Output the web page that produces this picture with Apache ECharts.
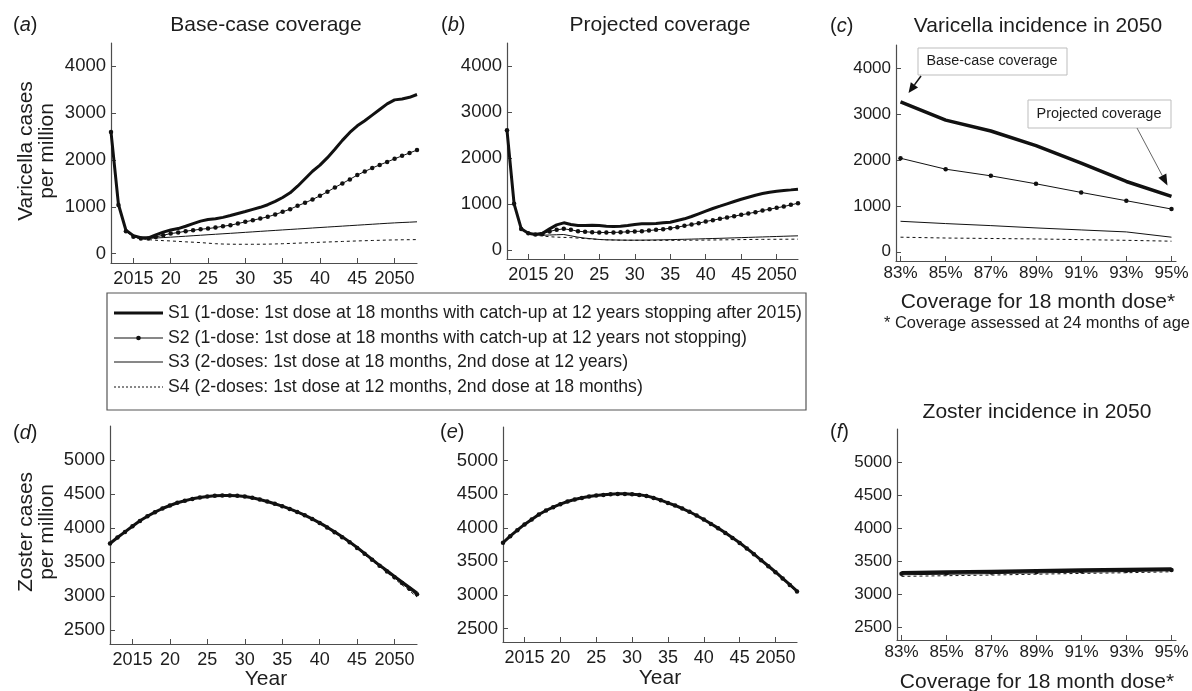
<!DOCTYPE html>
<html><head><meta charset="utf-8">
<script src="https://cdn.jsdelivr.net/npm/echarts@6/dist/echarts.min.js"></script>
<style>html,body{margin:0;padding:0;background:#fff}#c{width:1192px;height:691px}</style>
</head><body><div id="c"></div>
<script>
// ---------------- data ----------------
const years = [2012,2013,2014,2015,2016,2017,2018,2019,2020,2021,2022,2023,2024,2025,2026,2027,2028,2029,2030,2031,2032,2033,2034,2035,2036,2037,2038,2039,2040,2041,2042,2043,2044,2045,2046,2047,2048,2049,2050,2051,2052,2053];
const yearTicks = [2015,2020,2025,2030,2035,2040,2045,2050];
const yearTickLabels = ['2015','20','25','30','35','40','45','2050'];
const coverage = [83,85,87,89,91,93,95];
const coverageTickLabels = ['83%','85%','87%','89%','91%','93%','95%'];
const varicellaTicks = [0,1000,2000,3000,4000];
const zosterTicks = [2500,3000,3500,4000,4500,5000];
const scenarioNames = [
  'S1 (1-dose: 1st dose at 18 months with catch-up at 12 years stopping after 2015)',
  'S2 (1-dose: 1st dose at 18 months with catch-up at 12 years not stopping)',
  'S3 (2-doses: 1st dose at 18 months, 2nd dose at 12 years)',
  'S4 (2-doses: 1st dose at 12 months, 2nd dose at 18 months)'
];

// (a) varicella, base-case coverage
const aS1 = [2600,1050,500,385,340,338,400,460,505,535,585,640,695,730,745,775,815,858,900,945,990,1045,1115,1200,1300,1440,1600,1760,1890,2050,2230,2420,2590,2730,2840,2960,3080,3200,3285,3305,3340,3400];
const aS2 = [2600,1040,480,360,322,322,357,393,429,450,479,500,521,536,557,586,607,643,679,714,750,786,836,893,950,1021,1086,1157,1236,1321,1414,1500,1586,1679,1755,1830,1895,1960,2025,2090,2150,2214];
const aS3 = [2600,1045,485,365,333,328,334,343,352,362,372,383,393,404,414,424,434,444,455,465,476,486,496,507,517,527,537,548,558,568,578,588,598,608,618,628,638,648,657,665,672,680];
const aS4 = [2600,1045,480,355,318,300,286,278,271,262,252,244,236,224,212,205,202,200,200,200,201,203,207,212,218,224,230,236,243,249,254,260,266,271,276,281,285,290,293,296,298,300];
// (b) varicella, projected coverage
const bS1 = [2600,1000,460,362,333,362,456,543,587,550,529,529,536,529,514,507,514,529,551,565,565,572,587,601,638,674,725,783,841,899,949,1000,1051,1101,1145,1188,1225,1254,1275,1290,1304,1319];
const bS2 = [2600,1000,455,360,333,345,400,435,456,435,405,391,384,377,377,377,384,391,400,405,420,435,449,471,493,522,551,580,616,645,674,703,732,761,790,819,855,884,913,942,978,1014];
const bS3 = [2600,1000,455,355,325,318,322,328,333,304,275,254,239,225,217,215,212,210,210,211,213,215,218,221,225,229,233,237,242,246,250,255,260,265,270,275,280,285,290,295,300,304];
const bS4 = [2600,1000,450,350,318,300,285,275,270,265,255,245,235,225,218,213,210,208,207,206,206,206,206,206,207,208,209,210,212,214,216,218,220,222,224,226,227,228,229,230,231,232];
// (c) varicella incidence in 2050 vs coverage
const cS1 = [3260,2866,2628,2310,1928,1530,1206];
const cS2 = [2036,1798,1653,1480,1292,1112,931];
const cS3 = [664,614,570,520,476,433,318];
const cS4 = [318,300,290,280,265,250,231];
// (d) zoster, base-case coverage
const dS1 = [3775,3863,3946,4029,4108,4176,4235,4289,4333,4373,4402,4431,4451,4466,4476,4480,4480,4476,4466,4446,4422,4392,4358,4324,4284,4240,4191,4137,4078,4015,3946,3873,3799,3716,3630,3543,3455,3375,3290,3210,3130,3050];
const dS2 = [3775,3862,3945,4028,4107,4176,4235,4289,4333,4373,4402,4430,4450,4466,4475,4479,4479,4475,4465,4445,4421,4391,4357,4322,4282,4238,4189,4134,4075,4011,3941,3868,3793,3710,3623,3535,3447,3364,3278,3195,3112,3030];
const dS3 = [3774,3862,3945,4028,4106,4175,4234,4288,4332,4372,4401,4430,4450,4465,4475,4479,4479,4474,4464,4444,4420,4390,4355,4320,4280,4236,4186,4131,4072,4008,3938,3864,3789,3705,3618,3530,3443,3358,3270,3185,3100,3015];
const dS4 = [3774,3861,3944,4027,4106,4174,4233,4287,4331,4371,4400,4429,4449,4464,4474,4478,4478,4473,4463,4443,4418,4388,4353,4318,4277,4233,4183,4128,4068,4003,3933,3859,3783,3699,3611,3522,3435,3348,3258,3168,3080,2990];
// (e) zoster, projected coverage
const eS1 = [3777,3876,3965,4050,4124,4198,4257,4307,4351,4391,4421,4446,4465,4480,4490,4500,4505,4505,4500,4490,4475,4446,4411,4371,4332,4287,4238,4183,4124,4059,3995,3926,3851,3777,3693,3609,3520,3431,3342,3248,3153,3059];
const eS2 = [3776,3875,3964,4049,4123,4197,4256,4306,4350,4390,4420,4445,4464,4479,4489,4499,4504,4504,4499,4489,4474,4445,4410,4370,4331,4286,4237,4182,4123,4058,3993,3924,3849,3775,3691,3606,3517,3428,3338,3244,3148,3052];
const eS3 = [3776,3875,3964,4049,4123,4197,4256,4306,4350,4390,4420,4445,4464,4479,4489,4499,4504,4504,4499,4489,4474,4444,4409,4369,4330,4285,4236,4181,4121,4056,3991,3922,3847,3772,3688,3603,3514,3424,3334,3240,3144,3046];
const eS4 = [3775,3874,3963,4048,4122,4196,4255,4305,4349,4389,4419,4444,4463,4478,4488,4498,4503,4503,4498,4488,4473,4443,4408,4368,4328,4283,4234,4179,4119,4054,3989,3919,3844,3769,3685,3600,3510,3420,3329,3234,3138,3038];
// (f) zoster incidence in 2050 vs coverage
const fS1 = [3320,3330,3340,3350,3360,3368,3375];
const fS2 = [3305,3312,3322,3332,3342,3350,3362];
const fS3 = [3290,3297,3307,3318,3328,3338,3350];
const fS4 = [3265,3275,3285,3298,3310,3320,3335];

// ---------------- styling ----------------
const FONT = '"Liberation Sans", Arial, Helvetica, sans-serif';
const TXT = '#1d1d1d';
const AX = '#4d4d4d';
const INK = '#111';

const measureCtx = document.createElement('canvas').getContext('2d');
function condensed(text, size, targetW) {
  measureCtx.font = size + 'px "Liberation Sans", Arial, sans-serif';
  const w = measureCtx.measureText(text).width;
  return targetW / w;
}

const grids = [
  { left: 111, top: 43, width: 306, height: 220 },  // a
  { left: 507, top: 43, width: 291, height: 216 },  // b
  { left: 896, top: 45, width: 280, height: 216 },  // c
  { left: 110, top: 426, width: 307, height: 218 }, // d
  { left: 503, top: 427, width: 294, height: 215 }, // e
  { left: 897, top: 429, width: 279, height: 211 }  // f
];

function axLine() { return { show: true, onZero: false, lineStyle: { color: AX, width: 1.2 } }; }
function xYear(g) {
  return { type: 'value', gridIndex: g, min: 2012, max: 2053, axisLine: axLine(),
    axisTick: { show: true, inside: true, length: 5, customValues: yearTicks, lineStyle: { color: AX } },
    axisLabel: { customValues: yearTicks, formatter: v => yearTickLabels[yearTicks.indexOf(v)],
      fontSize: 18, color: TXT, fontFamily: FONT, margin: 7 },
    splitLine: { show: false } };
}
function xCov(g, fs) {
  return { type: 'value', gridIndex: g, min: 82.8, max: 95.2, axisLine: axLine(),
    axisTick: { show: true, inside: true, length: 5, customValues: coverage, lineStyle: { color: AX } },
    axisLabel: { customValues: coverage, formatter: v => coverageTickLabels[coverage.indexOf(v)],
      fontSize: fs, color: TXT, fontFamily: FONT, margin: 4 },
    splitLine: { show: false } };
}
function yAx(g, min, max, ticks, fs) {
  return { type: 'value', gridIndex: g, min: min, max: max, axisLine: axLine(),
    axisTick: { show: true, inside: true, length: 5, customValues: ticks, lineStyle: { color: AX } },
    axisLabel: { customValues: ticks, formatter: v => String(v), fontSize: fs, color: TXT, fontFamily: FONT, margin: 5 },
    splitLine: { show: false } };
}

function panelSeries(g, xs, s1, s2, s3, s4, thick) {
  const pair = (arr) => xs.map((x, i) => [x, arr[i]]);
  return [
    { name: scenarioNames[3], type: 'line', xAxisIndex: g, yAxisIndex: g, data: pair(s4), symbol: 'none',
      lineStyle: { color: INK, width: 1, type: [3, 3] }, itemStyle: { color: INK }, z: 2 },
    { name: scenarioNames[2], type: 'line', xAxisIndex: g, yAxisIndex: g, data: pair(s3), symbol: 'none',
      lineStyle: { color: INK, width: 1 }, itemStyle: { color: INK }, z: 3 },
    { name: scenarioNames[1], type: 'line', xAxisIndex: g, yAxisIndex: g, data: pair(s2), symbol: 'circle', symbolSize: 4.5,
      showSymbol: true, lineStyle: { color: INK, width: 1 }, itemStyle: { color: INK }, z: 4 },
    { name: scenarioNames[0], type: 'line', xAxisIndex: g, yAxisIndex: g, data: pair(s1), symbol: 'none',
      lineStyle: { color: INK, width: thick }, itemStyle: { color: INK }, z: 5 }
  ];
}

const series = [].concat(
  panelSeries(0, years, aS1, aS2, aS3, aS4, 3),
  panelSeries(1, years, bS1, bS2, bS3, bS4, 3),
  panelSeries(2, coverage, cS1, cS2, cS3, cS4, 3.5),
  panelSeries(3, years, dS1, dS2, dS3, dS4, 3),
  panelSeries(4, years, eS1, eS2, eS3, eS4, 3),
  panelSeries(5, coverage, fS1, fS2, fS3, fS4, 3.5)
);

function txt(x, y, text, size, extra) {
  const el = { type: 'text', x: x, y: y, silent: true,
    style: { text: text, fontSize: size, fontFamily: FONT, fill: TXT, align: 'center', verticalAlign: 'middle' } };
  if (extra) Object.assign(el, extra);
  return el;
}
function ctxt(x, y, text, size, targetW, align) {
  return { type: 'text', x: x, y: y, silent: true, scaleX: condensed(text, size, targetW),
    style: { text: text, fontSize: size, fontFamily: FONT, fill: TXT, align: align || 'center', verticalAlign: 'middle' } };
}
function panelLabel(x, y, letter) {
  return { type: 'text', x: x, y: y, silent: true,
    style: { text: '{n|(}{i|' + letter + '}{n|)}', align: 'left', verticalAlign: 'middle',
      rich: { n: { fontSize: 20, fontFamily: FONT, fill: TXT }, i: { fontSize: 20, fontFamily: FONT, fontStyle: 'italic', fill: TXT } } } };
}

const option = {
  animation: false,
  backgroundColor: '#fff',
  grid: grids.map(g => Object.assign({ containLabel: false }, g)),
  xAxis: [xYear(0), xYear(1), xCov(2, 17), xYear(3), xYear(4), xCov(5, 17)],
  yAxis: [
    yAx(0, -200, 4500, varicellaTicks, 18.5), yAx(1, -200, 4500, varicellaTicks, 18.5), yAx(2, -200, 4500, varicellaTicks, 17),
    yAx(3, 2300, 5500, zosterTicks, 18.5), yAx(4, 2300, 5500, zosterTicks, 18.5), yAx(5, 2300, 5500, zosterTicks, 17)
  ],
  series: series
};

const chart = echarts.init(document.getElementById('c'));
chart.setOption(option);

// ---------------- legend, texts, annotations ----------------
function arrow(x1, y1, x2, y2, headLen, headW, lineColor, lw) {
  const dx = x2 - x1, dy = y2 - y1, L = Math.sqrt(dx * dx + dy * dy);
  const ux = dx / L, uy = dy / L, px = -uy, py = ux;
  const bx = x2 - ux * headLen, by = y2 - uy * headLen;
  return [
    { type: 'line', silent: true, shape: { x1: x1, y1: y1, x2: bx, y2: by }, style: { stroke: lineColor, lineWidth: lw } },
    { type: 'polygon', silent: true, shape: { points: [[x2, y2], [bx + px * headW / 2, by + py * headW / 2], [bx - px * headW / 2, by - py * headW / 2]] },
      style: { fill: '#111' } }
  ];
}
const pBase = chart.convertToPixel({ gridIndex: 2 }, [coverage[0], cS1[0]]);
const pProj = chart.convertToPixel({ gridIndex: 2 }, [coverage[6], cS1[6]]);

// legend (manual, matching the framed legend of the figure)
const legendRows = [313, 338, 362, 387];
const legendStyles = [
  { lineWidth: 3, dash: null, dot: false },
  { lineWidth: 1, dash: null, dot: true },
  { lineWidth: 1, dash: null, dot: false },
  { lineWidth: 1, dash: [2, 2], dot: false }
];
const legendEls = [
  { type: 'rect', silent: true, shape: { x: 107, y: 293, width: 699, height: 117 }, style: { fill: 'none', stroke: '#555', lineWidth: 1.2 } }
];
const legendScale = condensed(scenarioNames[0], 19, 634);
scenarioNames.forEach((nm, i) => {
  const y = legendRows[i], st = legendStyles[i];
  legendEls.push({ type: 'line', silent: true, shape: { x1: 114, y1: y, x2: 163, y2: y },
    style: { stroke: INK, lineWidth: st.lineWidth, lineDash: st.dash } });
  if (st.dot) legendEls.push({ type: 'circle', silent: true, shape: { cx: 138.5, cy: y, r: 2.3 }, style: { fill: INK } });
  legendEls.push({ type: 'text', x: 168, y: y, silent: true, scaleX: legendScale,
    style: { text: nm, fontSize: 19, fontFamily: FONT, fill: TXT, align: 'left', verticalAlign: 'middle' } });
});

const graphics = legendEls.concat([
  // panel labels
  panelLabel(13, 25, 'a'), panelLabel(441, 25, 'b'), panelLabel(830, 26, 'c'),
  panelLabel(13, 433, 'd'), panelLabel(440, 432, 'e'), panelLabel(830, 432, 'f'),
  // titles
  txt(266, 25, 'Base-case coverage', 21), txt(660, 25, 'Projected coverage', 21),
  txt(1038, 26, 'Varicella incidence in 2050', 21), txt(1037, 412, 'Zoster incidence in 2050', 21),
  // y-axis names
  txt(37, 151, 'Varicella cases\nper million', 21, { rotation: Math.PI / 2 }),
  txt(37, 532, 'Zoster cases\nper million', 21, { rotation: Math.PI / 2 }),
  // x-axis names
  txt(266, 679, 'Year', 21), txt(660, 678, 'Year', 21),
  txt(1038, 302, 'Coverage for 18 month dose*', 21), txt(1037, 682, 'Coverage for 18 month dose*', 21),
  ctxt(1037, 323, '* Coverage assessed at 24 months of age', 16.5, 306),
  // annotation boxes
  { type: 'rect', silent: true, shape: { x: 918, y: 48, width: 149, height: 27 }, style: { fill: '#fff', stroke: '#bdbdbd', lineWidth: 1 } },
  ctxt(992, 61, 'Base-case coverage', 15.5, 131),
  { type: 'rect', silent: true, shape: { x: 1028, y: 100, width: 143, height: 28 }, style: { fill: '#fff', stroke: '#bdbdbd', lineWidth: 1 } },
  ctxt(1099, 114, 'Projected coverage', 15.5, 125)
]).concat(
  arrow(921, 76, pBase[0] + 8, pBase[1] - 9, 10, 9, '#111', 1.5),
  arrow(1137, 128, pProj[0] - 4, pProj[1] - 11, 11, 9, '#666', 1)
);
chart.setOption({ graphic: graphics });
</script>
</body></html>
